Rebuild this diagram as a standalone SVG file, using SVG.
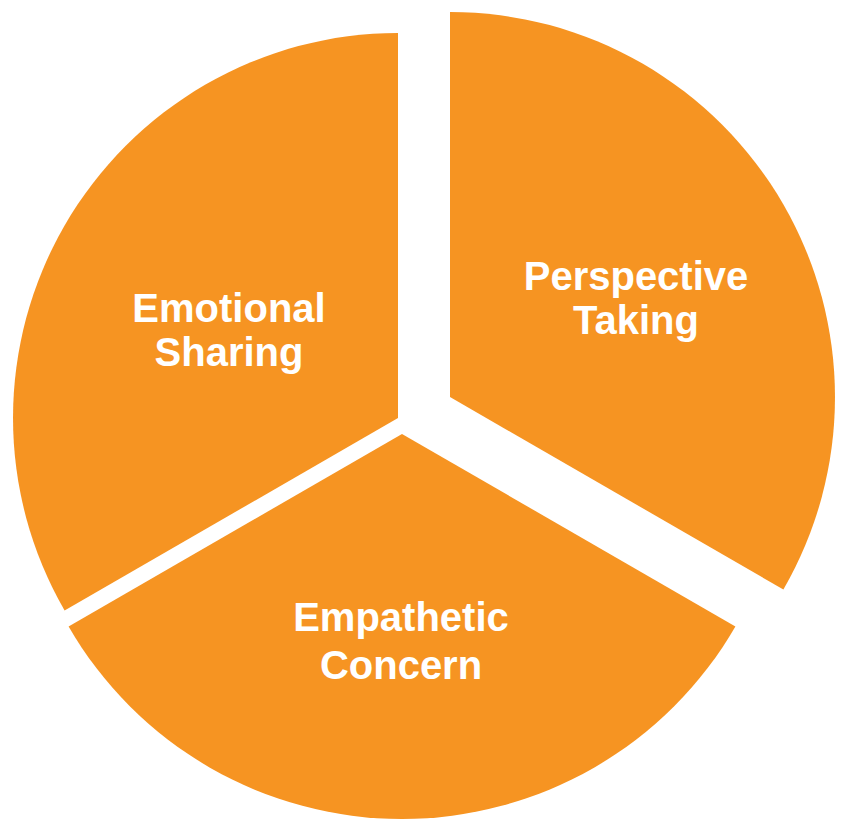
<svg xmlns="http://www.w3.org/2000/svg" width="843" height="821" viewBox="0 0 843 821">
<style>
.seg{fill:#F69422;}
.lbl{fill:#FFFFFF;font-family:"Liberation Sans",Arial,Helvetica,sans-serif;font-weight:bold;font-size:40px;text-anchor:middle;}
</style>
<rect width="843" height="821" fill="#FFFFFF"/>
<g id="perspective-taking">
<path class="seg" d="M450,397 L450,12 A385,385 0 0 1 783.4,589.5 Z"/>
<text class="lbl" x="636" y="290">Perspective</text>
<text class="lbl" x="636" y="334">Taking</text>
</g>
<g id="emotional-sharing">
<path class="seg" d="M398,418 L398,33 A385,385 0 0 0 64.6,610.5 Z"/>
<text class="lbl" x="229" y="322">Emotional</text>
<text class="lbl" x="229" y="366">Sharing</text>
</g>
<g id="empathetic-concern">
<path class="seg" d="M402,434 L735.4,626.5 A385,385 0 0 1 68.6,626.5 Z"/>
<text class="lbl" x="401" y="631">Empathetic</text>
<text class="lbl" x="401" y="679">Concern</text>
</g>
<g id="connectors"></g>
</svg>
